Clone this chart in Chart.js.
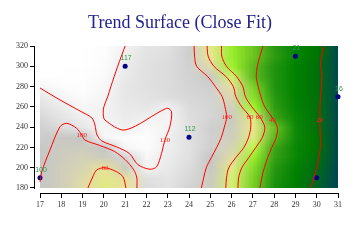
<!DOCTYPE html>
<html>
<head>
<meta charset="utf-8">
<script src="https://cdn.jsdelivr.net/npm/chart.js@4.4.1/dist/chart.umd.min.js"></script>
<style>
  html, body { margin: 0; padding: 0; background: #fff; }
</style>
</head>
<body>
<canvas id="surfaceChart" width="360" height="240"></canvas>
<script>
// surface grid: columns (x) and rows (y, top row first)
const gridX = [17, 18, 19, 20, 21, 22, 23, 24, 25, 26, 27, 28, 29, 30, 31];
const gridY = [320, 310, 300, 290, 280, 270, 260, 250, 240, 230, 220, 210, 200, 190, 180];
const surfaceRows = [
  [135, 133, 130, 126, 120, 114, 112, 104, 76, 55, 45, 36, 29, 23, 12],
  [135, 133, 130, 125, 118, 113, 111, 104, 78, 55, 45, 37, 29, 22, 12],
  [134, 132, 129, 124, 117, 112, 110, 105, 85, 57, 43, 35, 28, 21, 12],
  [133, 131, 128, 123, 116, 112, 110, 106, 97, 69, 43, 35, 28, 21, 12],
  [121, 126, 127, 122, 115, 112, 110, 107, 104, 82, 48, 35, 28, 21, 12],
  [116, 121, 124, 121, 115, 113, 111, 108, 106, 87, 51, 36, 28, 21, 12],
  [112, 117, 122, 120, 116, 115, 119, 110, 107, 92, 58, 37, 29, 21, 12],
  [108, 114, 119, 120, 117, 119, 121, 111, 107, 96, 74, 39, 30, 21, 12],
  [105, 110, 115, 122, 119, 123, 120, 112, 104, 95, 77, 45, 31, 21, 12],
  [103, 98, 100, 122, 124, 125, 119, 112, 105, 93, 74, 43, 31, 22, 12],
  [101, 96, 94, 100, 122, 124, 118, 112, 104, 89, 65, 39, 30, 22, 12],
  [100, 94, 90, 94, 106, 122, 117, 112, 100, 83, 55, 38, 30, 21, 12],
  [99, 93, 88, 80, 96, 120, 116, 110, 98, 75, 50, 36, 28, 20, 11],
  [100, 93, 85, 76, 82, 112, 114, 108, 96, 71, 48, 35, 27, 19, 11],
  [99, 93, 84, 74, 80, 110, 113, 106, 95, 70, 47, 34, 26, 18, 10]
];

// observed points and their values
const pointX = [17, 21, 24, 29, 31, 30];
const pointY = [190, 300, 230, 310, 270, 190];
const pointText = ['100', '117', '112', '21', '16', ''];

// contour lines [x, y]
const contour120 = [[17, 278.6], [17.94, 266.8], [18.88, 255.9], [19.44, 249], [19.58, 242.1], [19.68, 232.3],
  [19.91, 226.3], [20.6, 220.5], [21.2, 214], [21.6, 203], [22.16, 198.5], [22.48, 201], [22.71, 214.2],
  [22.87, 227.5], [23.1, 240.4], [23.18, 255.2], [22.95, 258.6], [21.0, 237.2], [20.05, 247], [19.97, 254],
  [20.0, 260], [20.18, 270], [20.33, 280], [20.65, 300], [21.0, 320]];
const contour100L = [[17.0, 186], [17.08, 196], [17.47, 217.5], [17.94, 240.4], [18.25, 243.8], [18.72, 238.9],
  [18.96, 232.3], [19.11, 227.3], [19.8, 222], [20.5, 216], [21.0, 208], [21.4, 198], [21.55, 190], [21.55, 180]];
const contour80L = [[19.25, 180], [19.5, 192], [19.66, 197.7], [20.05, 200], [20.6, 196], [20.9, 191], [21.04, 180]];
const contour100R = [[24.24, 320], [24.26, 310], [24.36, 300], [24.87, 290], [25.24, 280], [25.56, 270], [25.69, 260],
  [25.77, 250], [25.66, 240], [25.52, 230], [25.3, 220], [25.05, 210], [24.81, 200], [24.69, 190], [24.58, 180]];
const contour80R = [[24.85, 320], [24.9, 310], [25.17, 300], [25.73, 290], [26.08, 280], [26.2, 270], [26.48, 260],
  [26.86, 250], [26.9, 240], [26.8, 230], [26.58, 220], [26.2, 210], [25.87, 200], [25.76, 190], [25.73, 180]];
const contour60R = [[25.53, 320], [25.54, 310], [25.76, 300], [26.23, 290], [26.53, 280], [26.65, 270], [26.95, 260],
  [27.33, 250], [27.56, 240], [27.45, 230], [27.14, 220], [26.81, 210], [26.48, 200], [26.33, 190], [26.3, 180]];
const contour40R = [[27.48, 320], [27.33, 310], [27.21, 300], [27.16, 290], [27.25, 280], [27.38, 270], [27.56, 260],
  [27.89, 250], [28.15, 240], [28.1, 230], [27.89, 220], [27.7, 210], [27.54, 200], [27.42, 190], [27.33, 180]];
const contour20R = [[30.33, 320], [30.23, 310], [30.18, 300], [30.25, 290], [30.22, 280], [30.18, 270], [30.15, 260],
  [30.15, 250], [30.15, 240], [30.17, 230], [30.17, 220], [30.1, 210], [30.0, 200], [29.86, 190], [29.72, 180]];

// contour level labels
const levelText = ['100', '80', '60', '40', '20', '120', '100', '80'];
const levelX = [25.77, 26.86, 27.3, 27.92, 30.15, 22.87, 18.96, 20.05];
const levelY = [250, 250, 250, 247, 247, 227.5, 232.3, 199.7];

// value -> colour ramp
const colorStops = [
  [10, '#00405a'], [14, '#004f48'], [18, '#006428'], [22, '#007400'], [28, '#008200'], [34, '#1a9010'],
  [40, '#46a818'], [45, '#6cc420'], [50, '#86dc28'], [56, '#9cf02c'], [61, '#adff2f'], [70, '#d4f070'],
  [79, '#ece496'], [90, '#d4d2b8'], [100, '#c6c6c6'], [110, '#dcdcdc'], [118, '#eeeeee'], [124, '#fcfcfc'],
  [130, '#ffffff']
];

function hexRgb(h) {
  return [parseInt(h.slice(1, 3), 16), parseInt(h.slice(3, 5), 16), parseInt(h.slice(5, 7), 16)];
}

function colorFor(v) {
  if (v <= colorStops[0][0]) return hexRgb(colorStops[0][1]);
  for (let i = 1; i < colorStops.length; i++) {
    if (v <= colorStops[i][0]) {
      const [v0, c0] = colorStops[i - 1];
      const [v1, c1] = colorStops[i];
      const t = (v - v0) / (v1 - v0);
      const a = hexRgb(c0), b = hexRgb(c1);
      return a.map((n, k) => Math.round(n + (b[k] - n) * t));
    }
  }
  return hexRgb(colorStops[colorStops.length - 1][1]);
}

const toXY = arr => arr.map(([x, y]) => ({ x, y }));

// draws the fitted surface under the datasets
const surfacePlugin = {
  id: 'surface',
  beforeDatasetsDraw(chart) {
    const { ctx, scales: { x, y } } = chart;
    const cols = gridX.length, rows = gridY.length;
    const off = document.createElement('canvas');
    off.width = cols;
    off.height = rows;
    const octx = off.getContext('2d');
    const img = octx.createImageData(cols, rows);
    surfaceRows.forEach((row, r) => {
      row.forEach((v, c) => {
        const [R, G, B] = colorFor(v);
        const i = (r * cols + c) * 4;
        img.data[i] = R; img.data[i + 1] = G; img.data[i + 2] = B; img.data[i + 3] = 255;
      });
    });
    octx.putImageData(img, 0, 0);

    const halfX = (gridX[1] - gridX[0]) / 2;
    const halfY = (gridY[0] - gridY[1]) / 2;
    const left = x.getPixelForValue(gridX[0] - halfX);
    const right = x.getPixelForValue(gridX[cols - 1] + halfX);
    const top = y.getPixelForValue(gridY[0] + halfY);
    const bottom = y.getPixelForValue(gridY[rows - 1] - halfY);

    ctx.save();
    ctx.beginPath();
    const cl = x.getPixelForValue(gridX[0]), cr = x.getPixelForValue(gridX[cols - 1]);
    const ct = y.getPixelForValue(gridY[0]), cb = y.getPixelForValue(gridY[rows - 1]);
    ctx.rect(cl, ct, cr - cl, cb - ct);
    ctx.clip();
    ctx.imageSmoothingEnabled = true;
    ctx.drawImage(off, left, top, right - left, bottom - top);
    ctx.restore();
  },
  afterDatasetsDraw(chart) {
    const { ctx, scales: { x, y } } = chart;
    ctx.save();
    ctx.textAlign = 'center';
    ctx.textBaseline = 'middle';
    // contour level labels
    ctx.font = '7px "Liberation Serif"';
    ctx.fillStyle = '#ff2020';
    levelText.forEach((t, i) => {
      ctx.fillText(t, x.getPixelForValue(levelX[i]), y.getPixelForValue(levelY[i]));
    });
    // point values
    ctx.font = '7px "Liberation Sans"';
    ctx.fillStyle = '#33994d';
    pointText.forEach((t, i) => {
      if (!t) return;
      ctx.fillText(t, x.getPixelForValue(pointX[i]) + 1, y.getPixelForValue(pointY[i]) - 8);
    });
    ctx.restore();
  },
  afterDraw(chart) {
    // detached axis lines, spanning the data range only
    const { ctx, chartArea, scales: { x, y } } = chart;
    ctx.save();
    ctx.strokeStyle = '#000';
    ctx.lineWidth = 1;
    ctx.beginPath();
    const by = Math.round(chartArea.bottom) + 0.5;
    ctx.moveTo(x.getPixelForValue(17), by);
    ctx.lineTo(x.getPixelForValue(31) + 1, by);
    const lx = Math.round(chartArea.left) - 0.5;
    ctx.moveTo(lx, y.getPixelForValue(320));
    ctx.lineTo(lx, y.getPixelForValue(180) + 1);
    ctx.stroke();
    ctx.restore();
  }
};

const contourStyle = {
  showLine: true,
  borderColor: '#ff0000',
  borderWidth: 1,
  pointRadius: 0,
  tension: 0.3,
  fill: false
};

const tickFont = { family: 'Liberation Serif', size: 8 };

new Chart(document.getElementById('surfaceChart'), {
  type: 'scatter',
  data: {
    datasets: [
      { ...contourStyle, data: toXY(contour120) },
      { ...contourStyle, data: toXY(contour100L) },
      { ...contourStyle, data: toXY(contour80L) },
      { ...contourStyle, data: toXY(contour100R) },
      { ...contourStyle, data: toXY(contour80R) },
      { ...contourStyle, data: toXY(contour60R) },
      { ...contourStyle, data: toXY(contour40R) },
      { ...contourStyle, data: toXY(contour20R) },
      {
        data: pointX.map((px, i) => ({ x: px, y: pointY[i] })),
        pointRadius: 2.5,
        backgroundColor: '#000080',
        borderWidth: 0,
        clip: false
      }
    ]
  },
  options: {
    responsive: false,
    animation: false,
    devicePixelRatio: 1,
    layout: { padding: 0 },
    plugins: {
      legend: { display: false },
      tooltip: { enabled: false },
      title: {
        display: true,
        text: 'Trend Surface (Close Fit)',
        color: '#22228f',
        font: { family: 'Liberation Serif', size: 18, weight: 'normal' },
        padding: { top: 12, bottom: 12.4 }
      }
    },
    scales: {
      x: {
        type: 'linear',
        min: 16.765,
        max: 31,
        border: { display: false },
        grid: { drawOnChartArea: false, tickLength: 5, color: '#000' },
        ticks: {
          stepSize: 1, includeBounds: false, autoSkip: false, maxRotation: 0,
          font: tickFont, color: '#333', padding: 2
        },
        afterFit: s => { s.height = 47; }
      },
      y: {
        type: 'linear',
        min: 175.07,
        max: 320,
        border: { display: false },
        grid: { drawOnChartArea: false, tickLength: 5, color: '#000' },
        ticks: {
          stepSize: 20, includeBounds: false,
          font: tickFont, color: '#333', padding: 2
        },
        afterFit: s => { s.width = 35; }
      },
      // empty right margin so the title centres on the whole canvas
      yRight: {
        type: 'linear',
        position: 'right',
        display: true,
        border: { display: false },
        grid: { display: false },
        ticks: { display: false },
        afterFit: s => { s.width = 22; }
      }
    }
  },
  plugins: [surfacePlugin]
});
</script>
</body>
</html>
